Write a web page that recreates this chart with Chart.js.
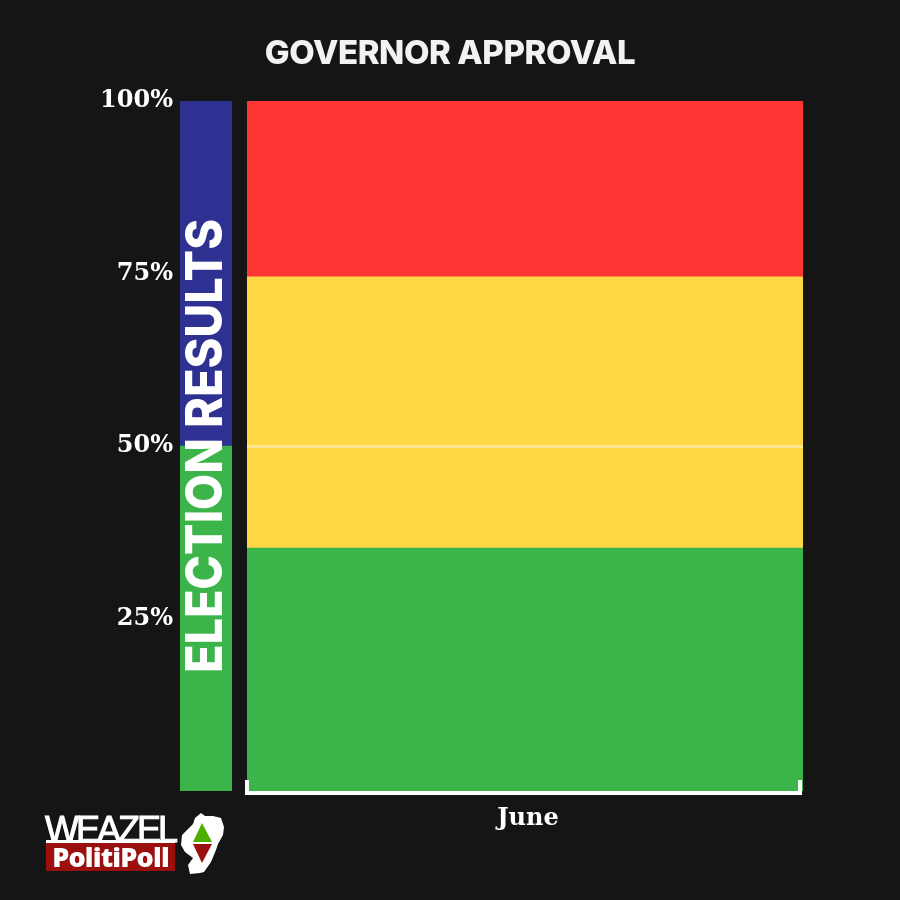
<!DOCTYPE html>
<html>
<head>
<meta charset="utf-8">
<script src="https://cdn.jsdelivr.net/npm/chart.js@4"></script>
<style>
  html, body { margin: 0; padding: 0; background: #151515; }
  #page { position: relative; width: 900px; height: 900px; overflow: hidden; }
  canvas { position: absolute; left: 0; top: 0; }
  h1 { position: absolute; left: 0; top: 32px; width: 900px; margin: 0; text-align: center;
       font: 800 33px Inter, sans-serif; letter-spacing: -0.4px; color: #f2f2f2; }
  #weazel { position: absolute; left: 45px; top: 809px; font: 400 36px "Liberation Sans", sans-serif;
            letter-spacing: -3px; color: #fff; -webkit-text-stroke: 1px #fff; }
  #rule { position: absolute; left: 46px; top: 840px; width: 129px; height: 3px; background: #fff; }
  #politi { position: absolute; left: 46px; top: 843px; width: 129px; height: 28px; background: #9b0f0f;
            text-align: center; font: 800 27px/28px "Open Sans", sans-serif; letter-spacing: -0.8px; color: #fff; }
  svg { position: absolute; left: 180px; top: 810px; }
</style>
</head>
<body>
<div id="page">
  <canvas id="election" width="900" height="900"></canvas>
  <canvas id="approval" width="900" height="900"></canvas>
  <h1>GOVERNOR APPROVAL</h1>
  <div id="weazel">WEAZEL</div>
  <div id="rule"></div>
  <div id="politi">PolitiPoll</div>
  <svg width="48" height="66" viewBox="0 0 48 66">
    <path fill="#fff" d="M21 3L25 6L33 6L41 8L44 17L43 25L38 34L36 40L31 52L24 62L20 63L10 64L8 55L13 48L5 42L1 35L2 25L7 20L13 14L15 8z"/>
    <path fill="#4caf00" d="M22 13L32 32H13z"/>
    <path fill="#9b0f0f" d="M13 34H32L22 53z"/>
  </svg>
</div>
<script>
const tickFont = { family: '"DejaVu Serif", serif', weight: "bold", size: 24 };

// approval bar
const months = ["June"];
const approve = [35.2];
const neutral = [39.3];
const disapprove = [25.5];

// election bar
const electionCategories = ["Election"];
const electionGreen = [50];
const electionBlue = [50];
const electionLabel = "ELECTION RESULTS";
const percentTicks = [25, 50, 75, 100];

const GREEN = "#3bb54a";
const YELLOW = "#ffd644";
const RED = "#ff3636";
const BLUE = "#2e3192";

const barDefaults = { barPercentage: 1, categoryPercentage: 1, borderWidth: 0 };

const rotatedLabel = {
  id: "rotatedLabel",
  afterDatasetsDraw(chart) {
    const { ctx, scales } = chart;
    ctx.save();
    ctx.translate(scales.x.getPixelForValue(0) + 1, scales.y.getPixelForValue(50));
    ctx.rotate(-Math.PI / 2);
    ctx.font = '800 51px Inter, sans-serif';
    ctx.fillStyle = "#fff";
    ctx.textAlign = "center";
    ctx.textBaseline = "middle";
    ctx.fillText(electionLabel, 0, 0, 454);
    ctx.restore();
  },
};

// bottom axis line with little upright ends
const axisCaps = {
  id: "axisCaps",
  afterDraw(chart) {
    const { ctx, scales } = chart;
    const bottom = scales.y.bottom;
    ctx.save();
    ctx.fillStyle = "#fff";
    ctx.fillRect(scales.x.left - 2, bottom - 11, 4, 15);
    ctx.fillRect(scales.x.right - 5, bottom - 11, 4, 15);
    ctx.fillRect(scales.x.left - 2, bottom, scales.x.width - 1, 4);
    ctx.restore();
  },
};

new Chart(document.getElementById("election"), {
  type: "bar",
  plugins: [rotatedLabel],
  data: {
    labels: electionCategories,
    datasets: [
      { data: electionGreen, backgroundColor: GREEN, ...barDefaults },
      { data: electionBlue, backgroundColor: BLUE, ...barDefaults },
    ],
  },
  options: {
    responsive: false,
    animation: false,
    layout: { padding: { top: 101, bottom: 109, right: 668, left: 0 } },
    plugins: { legend: { display: false }, tooltip: { enabled: false } },
    scales: {
      x: { stacked: true, display: false },
      y: {
        stacked: true,
        min: 0,
        max: 100,
        afterFit: (s) => { s.width = 180; },
        afterBuildTicks: (s) => { s.ticks = percentTicks.map((value) => ({ value })); },
        grid: { display: false, drawTicks: false },
        border: { display: false },
        ticks: {
          color: "#fff",
          font: tickFont,
          padding: 7,
          callback: (v) => v + "%",
        },
      },
    },
  },
});

new Chart(document.getElementById("approval"), {
  type: "bar",
  plugins: [axisCaps],
  data: {
    labels: months,
    datasets: [
      { data: approve, backgroundColor: GREEN, ...barDefaults },
      { data: neutral, backgroundColor: YELLOW, ...barDefaults },
      { data: disapprove, backgroundColor: RED, ...barDefaults },
    ],
  },
  options: {
    responsive: false,
    animation: false,
    layout: { padding: { top: 101, bottom: 0, right: 97, left: 0 } },
    plugins: { legend: { display: false }, tooltip: { enabled: false } },
    scales: {
      x: {
        stacked: true,
        afterFit: (s) => { s.height = 109; },
        grid: { display: false, drawTicks: false },
        border: { display: false },
        ticks: { color: "#fff", font: tickFont, padding: 13, labelOffset: 3 },
      },
      y: {
        stacked: true,
        min: 0,
        max: 100,
        afterFit: (s) => { s.width = 247; },
        afterBuildTicks: (s) => { s.ticks = percentTicks.map((value) => ({ value })); },
        border: { display: false },
        ticks: { display: false },
        grid: {
          z: 1,
          drawTicks: false,
          lineWidth: 3,
          color: (c) => (c.tick.value === 50 ? "rgba(255,255,255,0.4)" : "transparent"),
        },
      },
    },
  },
});
</script>
</body>
</html>
